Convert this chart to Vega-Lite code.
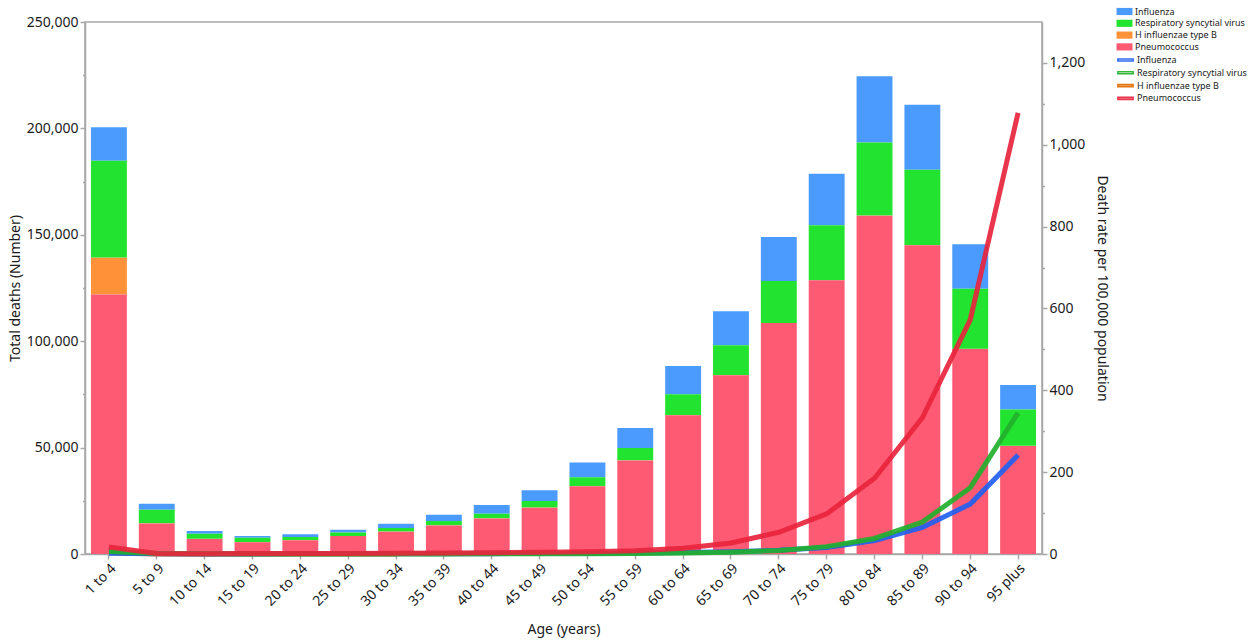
{
  "$schema": "https://vega.github.io/schema/vega-lite/v6.json",
  "width": 957,
  "height": 532,
  "autosize": {"type": "none"},
  "padding": {"left": 85, "top": 22, "right": 206, "bottom": 88},
  "config": {
    "font": "Noto Sans",
    "view": {"stroke": "#a8a8a8", "strokeWidth": 1.5},
    "axis": {
      "labelFont": "Noto Sans",
      "titleFont": "Noto Sans",
      "labelFontSize": 14,
      "titleFontSize": 14,
      "titleFontWeight": "normal",
      "labelColor": "#1a1a1a",
      "titleColor": "#1a1a1a",
      "domainColor": "#a8a8a8",
      "domainWidth": 1.5,
      "tickColor": "#a8a8a8",
      "tickWidth": 1.5,
      "grid": false
    },
    "legend": {
      "labelFont": "Noto Sans",
      "labelFontSize": 9,
      "labelColor": "#1a1a1a",
      "padding": 0,
      "rowPadding": 0.8,
      "labelOffset": 5,
      "labelLimit": 300
    }
  },
  "data": {
    "values": [
      {"age": "1 to 4", "cause": "H influenzae type B", "deaths": 17300, "rate": 3},
      {"age": "1 to 4", "cause": "Influenza", "deaths": 15700, "rate": 2},
      {"age": "1 to 4", "cause": "Respiratory syncytial virus", "deaths": 45500, "rate": 6},
      {"age": "1 to 4", "cause": "Pneumococcus", "deaths": 122000, "rate": 17},
      {"age": "5 to 9", "cause": "H influenzae type B", "deaths": 200, "rate": 0.2},
      {"age": "5 to 9", "cause": "Influenza", "deaths": 2800, "rate": 0.5},
      {"age": "5 to 9", "cause": "Respiratory syncytial virus", "deaths": 6300, "rate": 1.4},
      {"age": "5 to 9", "cause": "Pneumococcus", "deaths": 14300, "rate": 1.0},
      {"age": "10 to 14", "cause": "H influenzae type B", "deaths": 150, "rate": 0.1},
      {"age": "10 to 14", "cause": "Influenza", "deaths": 1200, "rate": 0.3},
      {"age": "10 to 14", "cause": "Respiratory syncytial virus", "deaths": 2400, "rate": 0.6},
      {"age": "10 to 14", "cause": "Pneumococcus", "deaths": 7000, "rate": 0.9},
      {"age": "15 to 19", "cause": "H influenzae type B", "deaths": 100, "rate": 0.1},
      {"age": "15 to 19", "cause": "Influenza", "deaths": 750, "rate": 0.3},
      {"age": "15 to 19", "cause": "Respiratory syncytial virus", "deaths": 2000, "rate": 0.3},
      {"age": "15 to 19", "cause": "Pneumococcus", "deaths": 5550, "rate": 1.1},
      {"age": "20 to 24", "cause": "H influenzae type B", "deaths": 100, "rate": 0.1},
      {"age": "20 to 24", "cause": "Influenza", "deaths": 1350, "rate": 0.4},
      {"age": "20 to 24", "cause": "Respiratory syncytial virus", "deaths": 1350, "rate": 0.3},
      {"age": "20 to 24", "cause": "Pneumococcus", "deaths": 6500, "rate": 1.3},
      {"age": "25 to 29", "cause": "H influenzae type B", "deaths": 100, "rate": 0.1},
      {"age": "25 to 29", "cause": "Influenza", "deaths": 1400, "rate": 0.4},
      {"age": "25 to 29", "cause": "Respiratory syncytial virus", "deaths": 1550, "rate": 0.3},
      {"age": "25 to 29", "cause": "Pneumococcus", "deaths": 8400, "rate": 1.5},
      {"age": "30 to 34", "cause": "H influenzae type B", "deaths": 100, "rate": 0.1},
      {"age": "30 to 34", "cause": "Influenza", "deaths": 2050, "rate": 0.6},
      {"age": "30 to 34", "cause": "Respiratory syncytial virus", "deaths": 1650, "rate": 0.3},
      {"age": "30 to 34", "cause": "Pneumococcus", "deaths": 10450, "rate": 1.8},
      {"age": "35 to 39", "cause": "H influenzae type B", "deaths": 100, "rate": null},
      {"age": "35 to 39", "cause": "Influenza", "deaths": 3000, "rate": 0.8},
      {"age": "35 to 39", "cause": "Respiratory syncytial virus", "deaths": 1950, "rate": 0.3},
      {"age": "35 to 39", "cause": "Pneumococcus", "deaths": 13400, "rate": 2.3},
      {"age": "40 to 44", "cause": "H influenzae type B", "deaths": 100, "rate": null},
      {"age": "40 to 44", "cause": "Influenza", "deaths": 4050, "rate": 0.9},
      {"age": "40 to 44", "cause": "Respiratory syncytial virus", "deaths": 2150, "rate": 0.4},
      {"age": "40 to 44", "cause": "Pneumococcus", "deaths": 16700, "rate": 3},
      {"age": "45 to 49", "cause": "H influenzae type B", "deaths": 100, "rate": null},
      {"age": "45 to 49", "cause": "Influenza", "deaths": 5000, "rate": 1.1},
      {"age": "45 to 49", "cause": "Respiratory syncytial virus", "deaths": 3050, "rate": 0.6},
      {"age": "45 to 49", "cause": "Pneumococcus", "deaths": 21750, "rate": 4.2},
      {"age": "50 to 54", "cause": "H influenzae type B", "deaths": 100, "rate": null},
      {"age": "50 to 54", "cause": "Influenza", "deaths": 6900, "rate": 1.5},
      {"age": "50 to 54", "cause": "Respiratory syncytial virus", "deaths": 4200, "rate": 0.9},
      {"age": "50 to 54", "cause": "Pneumococcus", "deaths": 31800, "rate": 5.5},
      {"age": "55 to 59", "cause": "H influenzae type B", "deaths": 100, "rate": null},
      {"age": "55 to 59", "cause": "Influenza", "deaths": 9400, "rate": 2.2},
      {"age": "55 to 59", "cause": "Respiratory syncytial virus", "deaths": 5850, "rate": 1.4},
      {"age": "55 to 59", "cause": "Pneumococcus", "deaths": 43900, "rate": 8},
      {"age": "60 to 64", "cause": "H influenzae type B", "deaths": 100, "rate": null},
      {"age": "60 to 64", "cause": "Influenza", "deaths": 13200, "rate": 3.4},
      {"age": "60 to 64", "cause": "Respiratory syncytial virus", "deaths": 9800, "rate": 2.5},
      {"age": "60 to 64", "cause": "Pneumococcus", "deaths": 65200, "rate": 14},
      {"age": "65 to 69", "cause": "H influenzae type B", "deaths": 100, "rate": null},
      {"age": "65 to 69", "cause": "Influenza", "deaths": 16000, "rate": 5.5},
      {"age": "65 to 69", "cause": "Respiratory syncytial virus", "deaths": 14000, "rate": 4.5},
      {"age": "65 to 69", "cause": "Pneumococcus", "deaths": 84000, "rate": 27},
      {"age": "70 to 74", "cause": "H influenzae type B", "deaths": 100, "rate": null},
      {"age": "70 to 74", "cause": "Influenza", "deaths": 20700, "rate": 9},
      {"age": "70 to 74", "cause": "Respiratory syncytial virus", "deaths": 19700, "rate": 8.5},
      {"age": "70 to 74", "cause": "Pneumococcus", "deaths": 108500, "rate": 53},
      {"age": "75 to 79", "cause": "H influenzae type B", "deaths": 100, "rate": null},
      {"age": "75 to 79", "cause": "Influenza", "deaths": 24200, "rate": 16},
      {"age": "75 to 79", "cause": "Respiratory syncytial virus", "deaths": 25800, "rate": 18},
      {"age": "75 to 79", "cause": "Pneumococcus", "deaths": 128600, "rate": 98},
      {"age": "80 to 84", "cause": "H influenzae type B", "deaths": 100, "rate": null},
      {"age": "80 to 84", "cause": "Influenza", "deaths": 31100, "rate": 33},
      {"age": "80 to 84", "cause": "Respiratory syncytial virus", "deaths": 34300, "rate": 38},
      {"age": "80 to 84", "cause": "Pneumococcus", "deaths": 159000, "rate": 185},
      {"age": "85 to 89", "cause": "H influenzae type B", "deaths": 100, "rate": null},
      {"age": "85 to 89", "cause": "Influenza", "deaths": 30500, "rate": 65},
      {"age": "85 to 89", "cause": "Respiratory syncytial virus", "deaths": 35400, "rate": 78},
      {"age": "85 to 89", "cause": "Pneumococcus", "deaths": 145100, "rate": 333},
      {"age": "90 to 94", "cause": "H influenzae type B", "deaths": 100, "rate": null},
      {"age": "90 to 94", "cause": "Influenza", "deaths": 20900, "rate": 122},
      {"age": "90 to 94", "cause": "Respiratory syncytial virus", "deaths": 28300, "rate": 162},
      {"age": "90 to 94", "cause": "Pneumococcus", "deaths": 96300, "rate": 572},
      {"age": "95 plus", "cause": "H influenzae type B", "deaths": 100, "rate": null},
      {"age": "95 plus", "cause": "Influenza", "deaths": 11600, "rate": 242},
      {"age": "95 plus", "cause": "Respiratory syncytial virus", "deaths": 17000, "rate": 345},
      {"age": "95 plus", "cause": "Pneumococcus", "deaths": 50750, "rate": 1078}
    ]
  },
  "encoding": {
    "x": {
      "field": "age",
      "type": "nominal",
      "scale": {
        "domain": ["1 to 4", "5 to 9", "10 to 14", "15 to 19", "20 to 24", "25 to 29", "30 to 34", "35 to 39", "40 to 44", "45 to 49", "50 to 54", "55 to 59", "60 to 64", "65 to 69", "70 to 74", "75 to 79", "80 to 84", "85 to 89", "90 to 94", "95 plus"],
        "paddingInner": 0.25,
        "paddingOuter": 0.125
      },
      "axis": {"title": "Age (years)", "labelAngle": -45, "tickSize": 5, "labelPadding": 2, "titlePadding": 14}
    }
  },
  "layer": [
    {
      "transform": [
        {"calculate": "indexof(['Pneumococcus', 'H influenzae type B', 'Respiratory syncytial virus', 'Influenza'], datum.cause)", "as": "stack_rank"}
      ],
      "mark": {"type": "bar"},
      "encoding": {
        "y": {
          "field": "deaths",
          "type": "quantitative",
          "stack": "zero",
          "scale": {"domain": [0, 250000], "nice": false},
          "axis": {
            "title": "Total deaths (Number)",
            "values": [0, 25000, 50000, 75000, 100000, 125000, 150000, 175000, 200000, 225000, 250000],
            "labelExpr": "datum.value % 50000 === 0 ? format(datum.value, ',') : ''",
            "tickSize": {"condition": {"test": "datum.value % 50000 === 0", "value": 5}, "value": 2.5},
            "labelPadding": 2,
            "titlePadding": 4
          }
        },
        "fill": {
          "field": "cause",
          "type": "nominal",
          "scale": {
            "domain": ["Influenza", "Respiratory syncytial virus", "H influenzae type B", "Pneumococcus"],
            "range": ["#4b9bff", "#22e32f", "#ff9238", "#ff5a73"]
          },
          "legend": {
            "title": null,
            "orient": "none",
            "legendX": 1034,
            "legendY": -16,
            "symbolType": "M-1.45,-0.65H1.45V0.65H-1.45Z",
            "symbolSize": 121,
            "symbolStrokeWidth": 0
          }
        },
        "order": {"field": "stack_rank", "type": "quantitative", "sort": "ascending"}
      }
    },
    {
      "mark": {"type": "line", "strokeWidth": 5, "opacity": 0.92},
      "encoding": {
        "y": {
          "field": "rate",
          "type": "quantitative",
          "scale": {"domain": [0, 1300], "nice": false},
          "axis": {
            "orient": "right",
            "title": "Death rate per 100,000 population",
            "values": [0, 100, 200, 300, 400, 500, 600, 700, 800, 900, 1000, 1100, 1200],
            "labelExpr": "datum.value % 200 === 0 ? format(datum.value, ',') : ''",
            "tickSize": {"condition": {"test": "datum.value % 200 === 0", "value": 5}, "value": 2.5},
            "labelPadding": 2,
            "titlePadding": 10
          }
        },
        "stroke": {
          "field": "cause",
          "type": "nominal",
          "scale": {
            "domain": ["Influenza", "Respiratory syncytial virus", "H influenzae type B", "Pneumococcus"],
            "range": ["#1f5ff0", "#22b02c", "#e06c00", "#e8253d"]
          },
          "legend": {
            "title": null,
            "orient": "none",
            "legendX": 1034,
            "legendY": 31.5,
            "symbolType": "M-1.38,-0.18H1.38V0.18H-1.38Z",
            "symbolSize": 121,
            "symbolStrokeWidth": 1.6
          }
        }
      }
    }
  ],
  "resolve": {
    "scale": {"y": "independent", "fill": "independent", "stroke": "independent"},
    "legend": {"fill": "independent", "stroke": "independent"}
  }
}
